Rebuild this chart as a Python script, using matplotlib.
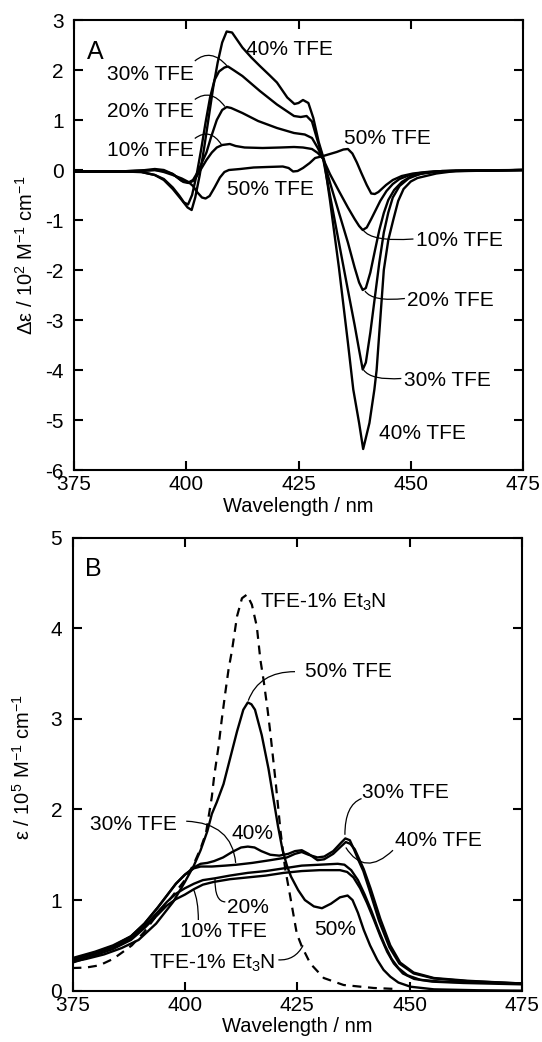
import matplotlib
matplotlib.use('Agg')
import matplotlib.pyplot as plt
from matplotlib.path import Path
from matplotlib.patches import PathPatch

# ---------------- data: panel A (CD) ----------------
cd10_x = [375, 385, 390, 393, 395, 397, 399.4, 400.5, 401.5, 402.3, 403.5, 404.5, 405.7, 406.8, 408, 409.7,
          411, 413, 417, 421, 424, 426, 428, 429.3, 430.5, 432, 434, 436, 437.5, 438.5, 439.3, 440.2, 441.2,
          442.2, 443.2, 444.6, 446, 447.5, 449.5, 452, 455, 460, 475]
cd10_y = [-0.03, -0.03, -0.01, 0.0, -0.02, -0.08, -0.24, -0.26, -0.22, -0.13, 0.05, 0.2, 0.35, 0.45, 0.5, 0.52,
          0.48, 0.45, 0.44, 0.45, 0.46, 0.45, 0.42, 0.34, 0.22, -0.08, -0.42, -0.75, -0.98, -1.12, -1.2, -1.15,
          -0.98, -0.8, -0.62, -0.42, -0.28, -0.18, -0.11, -0.06, -0.03, -0.01, 0.0]

cd20_x = [375, 385, 390, 393, 395, 397, 399, 400.5, 401.5, 402.5, 403.5, 404.5, 405.5, 406.8, 408, 409,
          410, 412.5, 416, 420.2, 424, 426.4, 428, 429.3, 430.5, 432, 434, 436, 437.5, 438.5, 439.3, 440,
          441, 442, 443, 444, 445, 446.3, 448, 450, 453, 457, 475]
cd20_y = [-0.03, -0.03, -0.01, 0.02, 0.0, -0.08, -0.22, -0.25, -0.2, -0.05, 0.15, 0.35, 0.65, 1.0, 1.2, 1.26,
          1.24, 1.14, 0.98, 0.84, 0.74, 0.71, 0.64, 0.44, 0.22, -0.25, -0.85, -1.45, -1.95, -2.25, -2.4, -2.36,
          -2.05, -1.62, -1.2, -0.86, -0.6, -0.4, -0.24, -0.13, -0.06, -0.02, 0.0]

cd30_x = [375, 385, 390, 393, 395, 397, 398.5, 399.5, 400.4, 401.3, 402.3, 403.3, 404.3, 405.3, 406.3, 407.3,
          408.5, 409.3, 410.5, 412.5, 416.4, 420.2, 424, 425.5, 426.8, 428, 429.1, 430.5, 432, 434, 436,
          437.5, 438.5, 439.3, 440, 441, 442, 443, 444, 445, 446, 447.5, 449.5, 452, 456, 475]
cd30_y = [-0.03, -0.03, -0.04, -0.1, -0.18, -0.35, -0.52, -0.65, -0.69, -0.5, -0.1, 0.4, 0.95, 1.45, 1.8, 1.97,
          2.05, 2.07, 2.0, 1.88, 1.58, 1.31, 1.08, 1.06, 1.08, 0.97, 0.63, 0.22, -0.5, -1.45, -2.4,
          -3.1, -3.6, -3.99, -3.85, -3.25, -2.55, -1.85, -1.25, -0.85, -0.55, -0.32, -0.17, -0.08, -0.03, 0.0]

cd40_x = [375, 385, 390, 393, 395, 397, 399, 400.3, 401.2, 402, 403, 404, 405, 406, 407, 408, 409, 410.2,
          412.5, 414.5, 416.4, 418.5, 420.2, 422.5, 424.1, 425, 426, 427.2, 428.3, 429.5, 430.7, 432, 434,
          436, 437.2, 438.5, 439.4, 440.8, 441.9, 442.4, 443.2, 444, 445, 446.1, 447.2, 448.4, 450, 451.5,
          455.7, 460, 475]
cd40_y = [-0.03, -0.03, -0.04, -0.1, -0.2, -0.38, -0.6, -0.75, -0.8, -0.55, -0.1, 0.45, 1.05, 1.65, 2.15,
          2.55, 2.77, 2.75, 2.45, 2.25, 2.08, 1.9, 1.75, 1.45, 1.32, 1.34, 1.4, 1.34, 1.04, 0.56, 0.2, -0.6,
          -1.95, -3.45, -4.39, -5.06, -5.58, -5.06, -4.39, -4.0, -3.0, -2.0, -1.4, -1.0, -0.62, -0.38, -0.23,
          -0.16, -0.07, -0.02, 0.0]

cd50_x = [375, 385, 390, 393, 395, 397, 399, 400.5, 401.5, 402.5, 403.5, 404.3, 405.2, 406.3, 407.5, 408.5,
          409.5, 412, 415, 418, 421.5, 422.8, 423.8, 424.8, 426, 427.5, 428.7, 430.5, 432, 433.5, 435, 436,
          437, 438, 439, 440.2, 441.2, 442, 442.8, 444.5, 446, 448, 450.5, 453.5, 459, 475]
cd50_y = [-0.03, -0.03, -0.02, 0.0, -0.04, -0.1, -0.17, -0.24, -0.32, -0.45, -0.55, -0.57, -0.52, -0.35,
          -0.15, -0.04, 0.0, 0.02, 0.05, 0.06, 0.07, 0.04, -0.03, -0.02, 0.04, 0.14, 0.24, 0.28, 0.32, 0.36,
          0.41, 0.42, 0.33, 0.15, -0.06, -0.3, -0.47, -0.48, -0.44, -0.3, -0.2, -0.12, -0.07, -0.04, -0.02, 0.0]

# ---------------- data: panel B (absorption) ----------------
ab10_x = [375, 380, 384, 388, 391, 394, 396, 398, 400, 402, 404, 406.4, 410, 414, 418, 422, 426, 430, 434.5,
          436.1, 437.5, 439, 440.5, 442, 443.5, 445, 446.5, 448.5, 451, 455, 462, 475]
ab10_y = [0.31, 0.39, 0.46, 0.56, 0.69, 0.84, 0.94, 1.01, 1.06, 1.12, 1.17, 1.2, 1.23, 1.25, 1.27, 1.3, 1.32,
          1.33, 1.33, 1.31, 1.25, 1.13, 0.97, 0.79, 0.6, 0.43, 0.3, 0.19, 0.13, 0.1, 0.085, 0.07]

ab20_x = [375, 380, 384, 388, 391, 394, 396, 398, 400, 402, 404, 406.7, 410, 414, 418, 422, 426, 430, 434,
          435.5, 437, 438.5, 440, 441.5, 443, 444.5, 446, 447.5, 449.5, 452.4, 457, 465, 475]
ab20_y = [0.33, 0.41, 0.48, 0.58, 0.71, 0.87, 0.98, 1.07, 1.13, 1.18, 1.22, 1.24, 1.27, 1.3, 1.32, 1.35, 1.38,
          1.39, 1.4, 1.39, 1.33, 1.22, 1.06, 0.88, 0.68, 0.5, 0.35, 0.25, 0.17, 0.12, 0.1, 0.09, 0.08]

ab30_x = [375, 380, 384, 388, 391, 394, 396, 398, 400, 402, 403.5, 406, 409, 411.5, 415, 419, 422.7, 424.5,
          426, 427.5, 429.5, 431, 433, 434.7, 435.7, 436.7, 437.7, 438.7, 439.7, 441, 443.2, 445.5, 447.7,
          450.9, 455.4, 462.8, 475]
ab30_y = [0.36, 0.43, 0.5, 0.6, 0.74, 0.92, 1.05, 1.18, 1.28, 1.35, 1.37, 1.37, 1.38, 1.39, 1.41, 1.44, 1.47,
          1.51, 1.53, 1.5, 1.47, 1.48, 1.54, 1.63, 1.68, 1.66, 1.55, 1.43, 1.32, 1.12, 0.77, 0.48, 0.3,
          0.19, 0.135, 0.105, 0.08]

ab40_x = [375, 380, 384, 388, 391, 394, 396, 398, 400, 402, 403.5, 405, 406.5, 408.5, 410.5, 412.5, 414,
          415.5, 417, 419, 421, 423, 424.5, 426, 427.5, 429.5, 431, 433, 434.7, 435.8, 436.8, 437.8, 438.8,
          439.8, 441.3, 443.5, 445.7, 447.9, 450.9, 455.4, 462.8, 472.4, 475]
ab40_y = [0.35, 0.42, 0.49, 0.6, 0.74, 0.92, 1.05, 1.18, 1.28, 1.36, 1.4, 1.41, 1.43, 1.47, 1.53, 1.58, 1.59,
          1.58, 1.54, 1.5, 1.49, 1.51, 1.54, 1.55, 1.51, 1.44, 1.45, 1.51, 1.59, 1.64, 1.62, 1.56, 1.45,
          1.34, 1.13, 0.79, 0.5, 0.31, 0.2, 0.14, 0.11, 0.085, 0.08]

ab50_x = [375, 378, 382, 385.9, 389.7, 393.6, 397.4, 400, 402, 403.5, 405, 406, 407.1, 408.6, 410.1, 411.6,
          413, 414, 414.8, 415.6, 417.1, 418.6, 419.7, 420.7, 421.7, 422.7, 423.6, 425.2, 426.7, 428.7,
          430.5, 432.5, 434.5, 436.2, 437.3, 438.5, 439.8, 441.2, 442.8, 444.2, 445.7, 447.5, 450.2,
          455.4, 465, 475]
ab50_y = [0.32, 0.35, 0.4, 0.47, 0.56, 0.74, 0.98, 1.2, 1.38, 1.55, 1.76, 1.95, 2.08, 2.28, 2.57, 2.86, 3.1,
          3.18, 3.16, 3.1, 2.82, 2.45, 2.12, 1.82, 1.56, 1.38, 1.26, 1.11, 1.0, 0.93, 0.91, 0.96, 1.03, 1.05,
          1.0, 0.86, 0.67, 0.5, 0.34, 0.23, 0.155, 0.09, 0.044, 0.015, 0.005, 0.0]

et3n_x = [375, 378, 381, 384, 386, 388.2, 391, 394, 397, 400, 402, 403.5, 404.7, 406, 406.5, 407.5, 408.2,
          409, 409.7, 410.5, 411.6, 412.7, 413.8, 414.9, 416, 416.8, 417.5, 418.4, 419, 420.2, 421.3, 422.3,
          423.4, 424.9, 426, 427.9, 430.9, 435.3, 442, 446.5]
et3n_y = [0.25, 0.255, 0.28, 0.35, 0.42, 0.5, 0.65, 0.85, 1.03, 1.22, 1.4, 1.57, 1.74, 2.14, 2.36, 2.7, 2.99,
          3.29, 3.54, 3.76, 4.13, 4.33, 4.37, 4.26, 4.02, 3.65, 3.43, 3.1, 2.85, 2.3, 1.75, 1.35, 1.05, 0.63,
          0.49, 0.3, 0.14, 0.063, 0.03, 0.02]

xticks = [375, 400, 425, 450, 475]
yticks_a = [-6, -5, -4, -3, -2, -1, 0, 1, 2, 3]
yticks_b = [0, 1, 2, 3, 4, 5]

# labels: (text, x, y baseline) in data coords
labels_a = [("40% TFE", 413.4, 2.30), ("30% TFE", 382.4, 1.80), ("20% TFE", 382.4, 1.06),
            ("10% TFE", 382.4, 0.28), ("50% TFE", 435.1, 0.52), ("50% TFE", 409.1, -0.50),
            ("10% TFE", 451.1, -1.51), ("20% TFE", 449.2, -2.72), ("30% TFE", 448.4, -4.31),
            ("40% TFE", 443.0, -5.38)]
labels_b = [("TFE-1% Et$_3$N", 416.7, 4.23), ("50% TFE", 426.7, 3.46), ("30% TFE", 439.5, 2.13),
            ("40% TFE", 446.8, 1.60), ("30% TFE", 378.9, 1.77), ("40%", 410.4, 1.67), ("20%", 409.4, 0.86),
            ("10% TFE", 398.9, 0.59), ("50%", 428.7, 0.62), ("TFE-1% Et$_3$N", 392.0, 0.24)]

# leader curves: start, control, end
leaders_a = [[(401.9, 2.18), (405.5, 2.45), (409.1, 2.08)],
             [(401.9, 1.41), (405.5, 1.64), (408.6, 1.27)],
             [(401.9, 0.63), (405.3, 0.86), (407.9, 0.50)],
             [(439.4, -1.20), (441.2, -1.44), (450.6, -1.38)],
             [(439.8, -2.42), (441.5, -2.64), (448.7, -2.57)],
             [(439.5, -4.00), (441.2, -4.21), (447.9, -4.17)]]
leaders_b = [[(424.5, 3.52), (416.5, 3.52), (414.1, 3.20)],
             [(439.3, 2.12), (435.6, 2.05), (435.6, 1.72)],
             [(446.3, 1.55), (440.0, 1.25), (435.8, 1.58)],
             [(400.3, 1.87), (410.5, 1.85), (411.3, 1.41)],
             [(409.0, 0.98), (406.6, 0.98), (406.7, 1.24)],
             [(403.0, 0.78), (403.0, 1.00), (401.9, 1.12)],
             [(420.8, 0.34), (424.5, 0.33), (426.3, 0.50)]]

plt.rcParams['font.family'] = ['Liberation Sans', 'DejaVu Sans']
plt.rcParams['mathtext.fontset'] = 'custom'
plt.rcParams['mathtext.rm'] = 'Liberation Sans'
plt.rcParams['mathtext.it'] = 'Liberation Sans:italic'
plt.rcParams['mathtext.default'] = 'rm'
plt.rcParams['axes.unicode_minus'] = False

fig = plt.figure(figsize=(5.42, 10.42), dpi=100)
axA = fig.add_axes([74 / 542, 1 - 470 / 1042, 449 / 542, 450 / 1042])
axB = fig.add_axes([72.5 / 542, 1 - 990.7 / 1042, 449.5 / 542, 453.2 / 1042])

lw = 1.7
for xs, ys in [(cd10_x, cd10_y), (cd20_x, cd20_y), (cd30_x, cd30_y), (cd40_x, cd40_y), (cd50_x, cd50_y)]:
    axA.plot(xs, ys, color='black', lw=lw, solid_joinstyle='round')
for xs, ys in [(ab10_x, ab10_y), (ab20_x, ab20_y), (ab30_x, ab30_y), (ab40_x, ab40_y), (ab50_x, ab50_y)]:
    axB.plot(xs, ys, color='black', lw=lw, solid_joinstyle='round')
axB.plot(et3n_x, et3n_y, color='black', lw=1.6, linestyle=(0, (4, 3)))


def draw_leaders(ax, leaders):
    for p0, p1, p2 in leaders:
        path = Path([p0, p1, p2], [Path.MOVETO, Path.CURVE3, Path.CURVE3])
        ax.add_patch(PathPatch(path, fill=False, lw=0.9, edgecolor='black'))


draw_leaders(axA, leaders_a)
draw_leaders(axB, leaders_b)

for txt, x, y in labels_a:
    axA.text(x, y, txt, fontsize=15, ha='left', va='baseline')
for txt, x, y in labels_b:
    axB.text(x, y, txt, fontsize=15, ha='left', va='baseline')

axA.text(379.7, 2.22, 'A', fontsize=18, ha='center', va='baseline')
axB.text(379.7, 4.57, 'B', fontsize=18, ha='center', va='baseline')

axA.set_xlim(375, 475)
axA.set_ylim(-6, 3)
axA.set_yticks(yticks_a)
axB.set_xlim(375, 475)
axB.set_ylim(0, 5)
axB.set_yticks(yticks_b)

for ax in (axA, axB):
    ax.set_xticks(xticks)
    ax.tick_params(direction='in', length=6.5, width=1.5, top=True, right=True, labelsize=15)
    ax.tick_params(axis='y', pad=7.5)
    ax.tick_params(axis='x', pad=3.5)
    for sp in ax.spines.values():
        sp.set_linewidth(1.5)
    ax.set_xlabel('Wavelength / nm', fontsize=14.5)

axA.set_ylabel('Δε / 10$^2$ M$^{-1}$ cm$^{-1}$', fontsize=14.5)
axB.set_ylabel('ε / 10$^5$ M$^{-1}$ cm$^{-1}$', fontsize=14.5)
axA.xaxis.set_label_coords(0.5, -0.061)
axB.xaxis.set_label_coords(0.5, -0.059)
axA.yaxis.set_label_coords(-0.082, 0.476)
axB.yaxis.set_label_coords(-0.086, 0.493)

fig.savefig('out.png', dpi=100)
